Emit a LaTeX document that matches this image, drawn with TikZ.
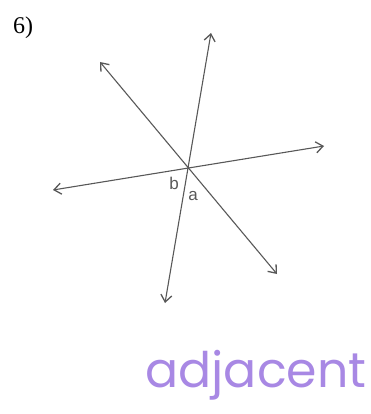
\documentclass[tikz,border=0pt]{standalone}
\usepackage{fontspec}
\setmainfont{Liberation Serif}
\newfontfamily\labelfont{Liberation Sans}
\newfontfamily\handfont{Poppins}
\usetikzlibrary{arrows.meta,positioning,calc}
\definecolor{LineGray}{RGB}{88,88,88}
\definecolor{SoftPurple}{RGB}{168,136,228}
\tikzset{
  ray/.style={arrows={Straight Barb[length=7pt,width=11pt,line width=1.3pt]-Straight Barb[length=7pt,width=11pt,line width=1.3pt]},
    line width=1.1pt,LineGray},
  anglelabel/.style={font=\labelfont\fontsize{17}{17}\selectfont,text=LineGray,inner sep=0pt},
  answer/.style={font=\handfont\fontsize{49}{49}\selectfont,text=SoftPurple,inner sep=0pt}
}

\begin{document}
\begin{tikzpicture}[x=1pt,y=-1pt]
  \useasboundingbox (0,0) rectangle (371,414);

  \node[font=\fontsize{24}{24}\selectfont,inner sep=0pt] (num) at (23,28) {6)};

  % ends of the three lines
  \coordinate (O) at (188,167);
  \coordinate (steepTop) at (211,33);
  \coordinate (steepBot) at (165,303);
  \coordinate (diagTop) at (100,62);
  \coordinate (diagBot) at (277,274);
  \coordinate (flatLeft) at (53,190);
  \coordinate (flatRight) at (324,146);

  \draw[ray] (steepBot) -- (steepTop);
  \draw[ray] (diagTop) -- (diagBot);
  \draw[ray] (flatLeft) -- (flatRight);

  \node[anglelabel] (b) at (174,183) {b};
  \node[anglelabel] (a) at (193,196) {a};

  \node[answer] (word) at (256,375) {adjacent};
\end{tikzpicture}
\end{document}
